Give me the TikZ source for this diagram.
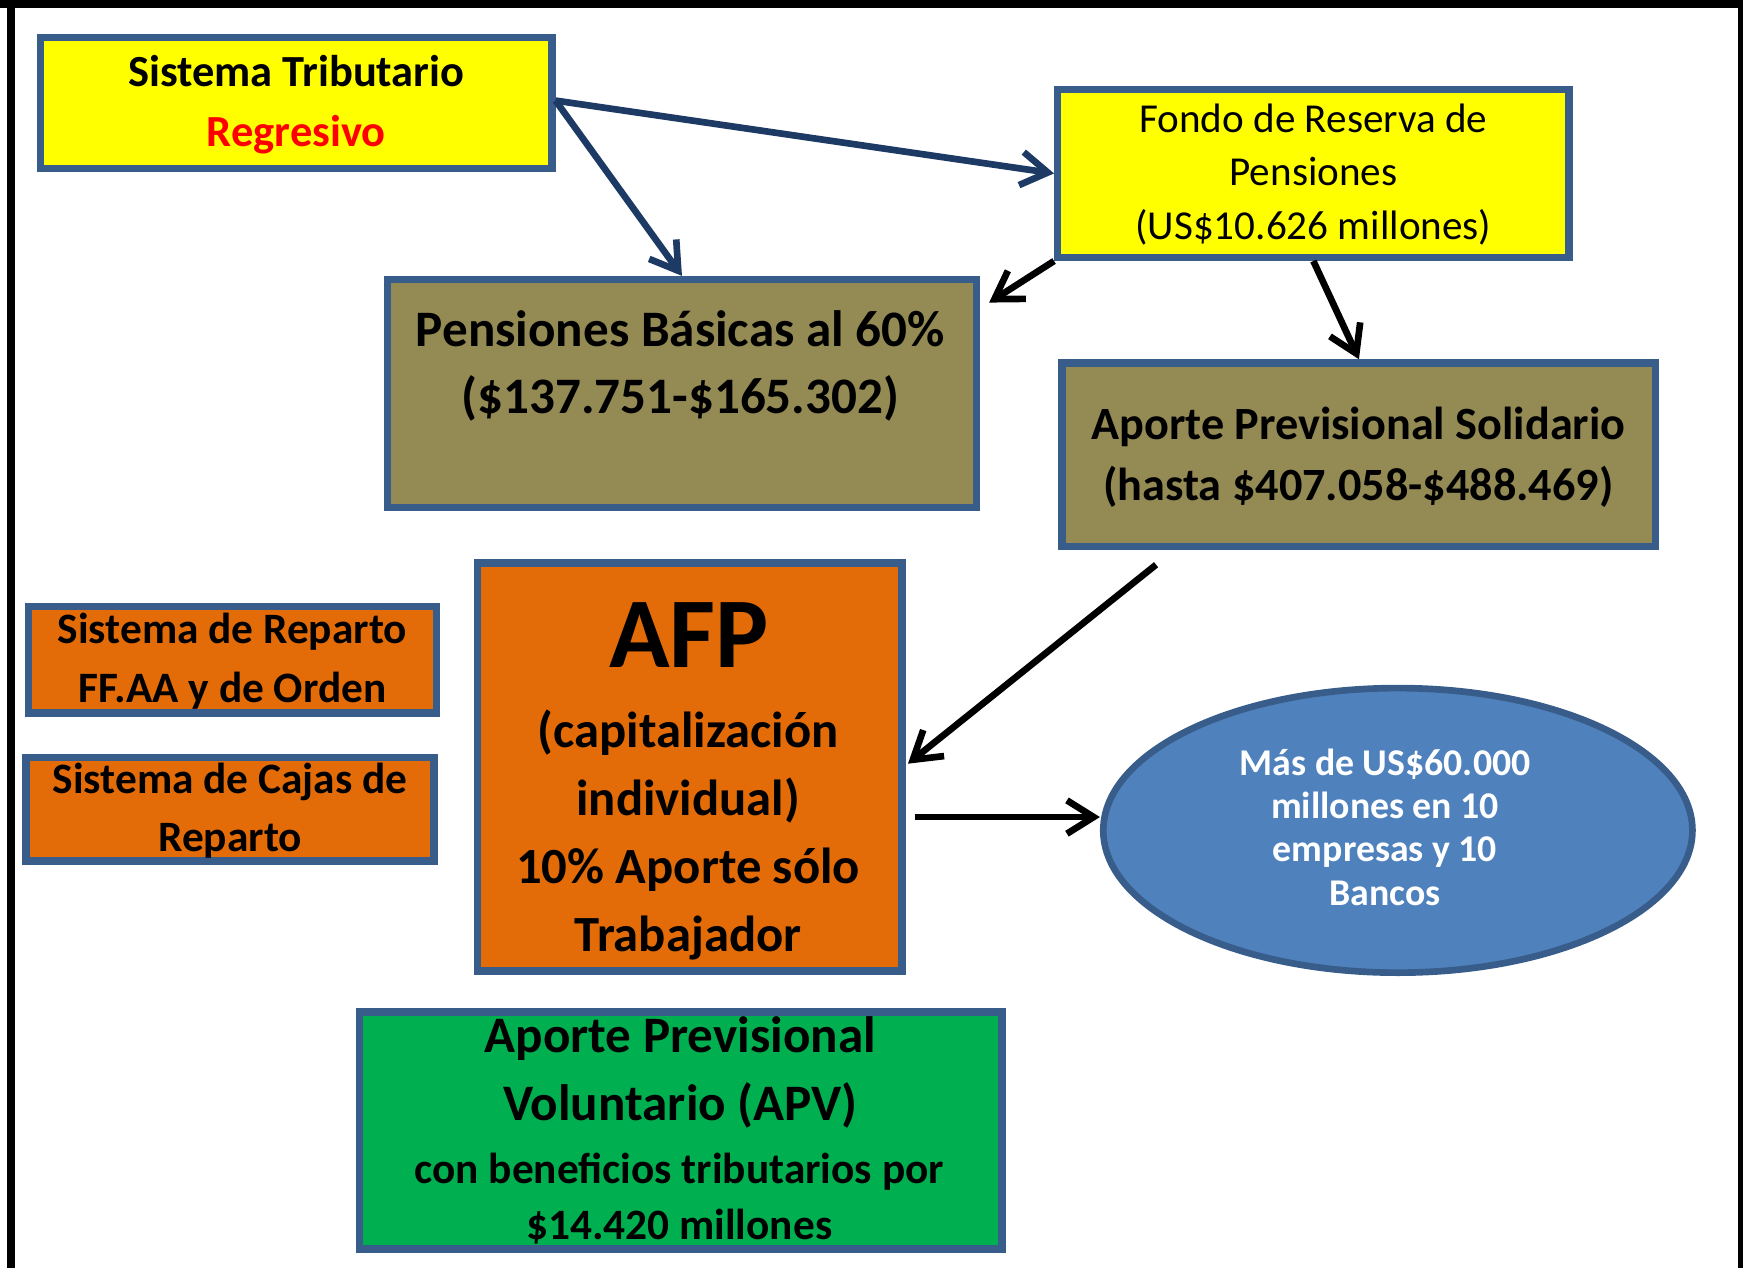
\documentclass[tikz,border=0pt]{standalone}
\usepackage{fontspec}
\setmainfont{Carlito}
\usetikzlibrary{arrows.meta,shapes.geometric}
\definecolor{bordblue}{HTML}{385D8A}
\definecolor{boxyellow}{HTML}{FFFF00}
\definecolor{boxolive}{HTML}{948A54}
\definecolor{boxorange}{HTML}{E36C09}
\definecolor{boxgreen}{HTML}{00B050}
\definecolor{ellblue}{HTML}{4F81BD}
\definecolor{arrblue}{HTML}{1C3A63}
\definecolor{txtred}{HTML}{FF0000}
\tikzset{
  boxnode/.style={draw=bordblue, line width=3.3pt, rectangle, inner sep=0pt},
  txt/.style={inner sep=0pt, align=center, text=black},
  arrb/.style={draw=arrblue, line width=3pt, -{Straight Barb[length=12pt,width=15pt]}},
  arrk/.style={draw=black, line width=3pt, -{Straight Barb[length=12pt,width=15pt]}},
}
\begin{document}
\begin{tikzpicture}[x=0.5pt,y=-0.5pt]
\useasboundingbox (0,0) rectangle (1568,1141);
% frame
\fill[black] (0,0) rectangle (1568,7.2);
\fill[black] (6.3,0) rectangle (13.5,1141);
\fill[black] (1563.5,0) rectangle (1568,1141);

% boxes
\node[boxnode, fill=boxyellow, minimum width=230pt, minimum height=59pt] (trib) at (266.5,92.5) {};
\node[boxnode, fill=boxyellow, minimum width=230pt, minimum height=75.5pt] (fondo) at (1181.5,156) {};
\node[boxnode, fill=boxolive, minimum width=265pt, minimum height=102.5pt] (pens) at (613.5,354) {};
\node[boxnode, fill=boxolive, minimum width=267pt, minimum height=82.5pt] (sol) at (1222.5,409) {};
\node[boxnode, fill=boxorange, minimum width=191pt, minimum height=183.5pt] (afp) at (620.5,690) {};
\node[boxnode, fill=boxorange, minimum width=183.5pt, minimum height=48pt] (rep) at (209,593.5) {};
\node[boxnode, fill=boxorange, minimum width=183.5pt, minimum height=46.5pt] (caj) at (207,728) {};
\node[boxnode, fill=boxgreen, minimum width=289pt, minimum height=106.5pt] (apv) at (612.5,1017) {};
\node[ellipse, draw=bordblue, line width=3pt, fill=ellblue, inner sep=0pt, minimum width=265pt, minimum height=128pt] (ell) at (1257.5,747) {};

% texts
\node[txt, font=\fontsize{20}{27}\selectfont\bfseries] (tribT) at (266.5,94) {Sistema Tributario\\\textcolor{txtred}{Regresivo}};
\node[txt, font=\fontsize{18.5}{24}\selectfont] (fondoT) at (1181.5,157) {Fondo de Reserva de\\Pensiones\\(US\$10.626 millones)};
\node[txt, font=\fontsize{23}{30}\selectfont\bfseries] (pensT) at (612,329) {Pensiones Básicas al 60\%\\(\$137.751-\$165.302)};
\node[txt, font=\fontsize{20.8}{27.5}\selectfont\bfseries] (solT) at (1222,411) {Aporte Previsional Solidario\\(hasta \$407.058-\$488.469)};
\node[txt, font=\fontsize{45}{50}\selectfont\bfseries] (afpA) at (620,571) {AFP};
\node[txt, font=\fontsize{22.8}{30.5}\selectfont\bfseries] (afpT) at (619,751) {(capitalización\\individual)\\10\% Aporte sólo\\Trabajador};
\node[txt, font=\fontsize{19.5}{26.5}\selectfont\bfseries] (repT) at (209,595) {Sistema de Reparto\\FF.AA y de Orden};
\node[txt, font=\fontsize{19.5}{26}\selectfont\bfseries] (cajT) at (207,729) {Sistema de Cajas de\\Reparto};
\node[txt, font=\fontsize{23}{30.5}\selectfont\bfseries] (apvT1) at (612,965) {Aporte Previsional\\Voluntario (APV)};
\node[txt, font=\fontsize{19.5}{25}\selectfont\bfseries] (apvT2) at (611,1078) {con beneficios tributarios por\\\$14.420 millones};
\node[txt, text=white, font=\fontsize{17}{19.5}\selectfont\bfseries] (ellT) at (1246,744) {Más de US\$60.000\\millones en 10\\empresas y 10\\Bancos};

% connectors
\coordinate (solout) at (1040,508);
\draw[arrb] ([yshift=1pt]trib.east) -- (fondo.west);
\draw[arrb] ([yshift=1pt]trib.east) -- (pens.north);
\draw[arrk] (fondo.south west) -- ([xshift=4pt,yshift=-12pt]pens.north east);
\draw[arrk] (fondo.south) -- (sol.north);
\draw[arrk] (solout) -- ([xshift=1pt,yshift=1.5pt]afp.east);
\coordinate (afpout) at ([xshift=4pt,yshift=-22.5pt]afp.east);
\draw[arrk] (afpout) -- (afpout -| ell.west);
\end{tikzpicture}
\end{document}
